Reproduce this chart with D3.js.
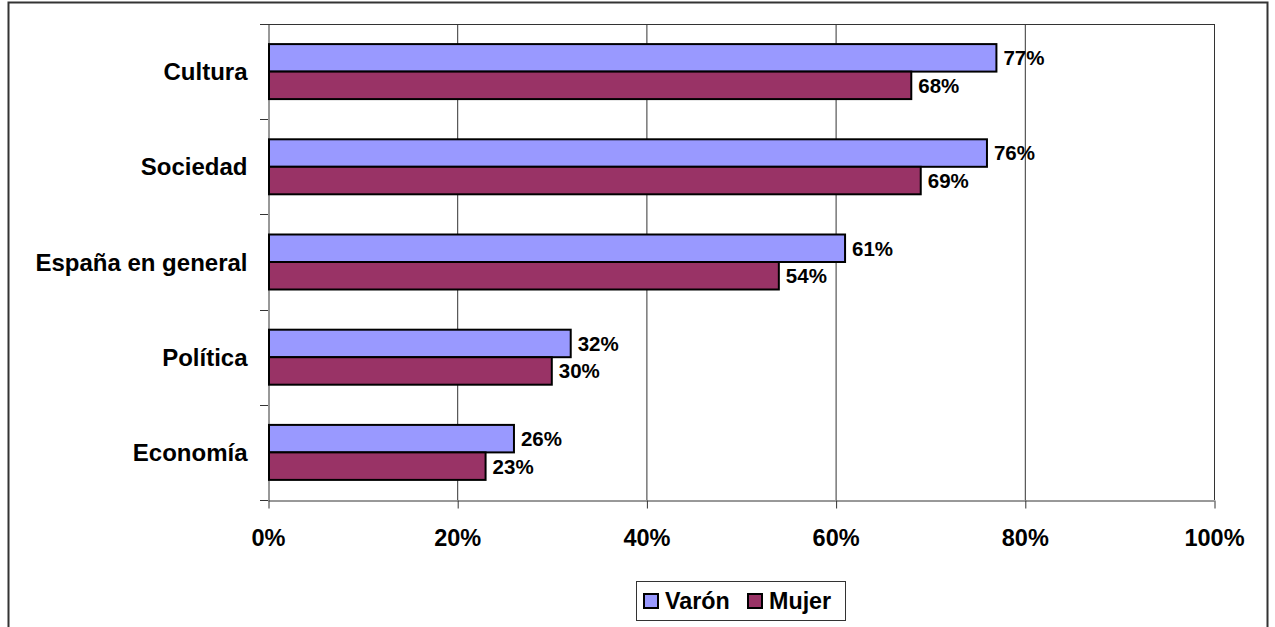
<!DOCTYPE html>
<html>
<head>
<meta charset="utf-8">
<script src="https://cdn.jsdelivr.net/npm/d3@7/dist/d3.min.js"></script>
<style>
  html, body { margin: 0; padding: 0; background: #fff; }
  svg { display: block; }
  text { font-family: Arial, "Liberation Sans", sans-serif; font-weight: bold; fill: #000; }
</style>
</head>
<body>
<svg id="chart" width="1275" height="627"></svg>
<script>
// Temas y porcentajes por sexo
const categories = ["Cultura", "Sociedad", "España en general", "Política", "Economía"];
const varon = [77, 76, 61, 32, 26];
const mujer = [68, 69, 54, 30, 23];
const seriesNames = ["Varón", "Mujer"];
const seriesColors = ["#9999FF", "#993366"];
const xTicks = [0, 20, 40, 60, 80, 100];

const svg = d3.select("#chart");

// Marco exterior
svg.append("rect")
  .attr("x", 8.5).attr("y", 2.5)
  .attr("width", 1259).attr("height", 640)
  .attr("fill", "none").attr("stroke", "#333").attr("stroke-width", 2);

const plot = { left: 268, right: 1214, top: 24, bottom: 500 };

const x = d3.scaleLinear().domain([0, 100]).range([plot.left, plot.right]);
const y = d3.scaleBand().domain(categories).range([plot.top, plot.bottom]).paddingInner(0).paddingOuter(0);
const barH = 27.5;

// Líneas de cuadrícula verticales
svg.append("g").selectAll("line")
  .data(xTicks.slice(1))
  .join("line")
  .attr("x1", d => x(d) + 0.5).attr("x2", d => x(d) + 0.5)
  .attr("y1", plot.top).attr("y2", plot.bottom)
  .attr("stroke", "#333").attr("stroke-width", 1);

// Borde superior del área de trazado
svg.append("line")
  .attr("x1", plot.left).attr("x2", plot.right + 0.5)
  .attr("y1", plot.top + 0.5).attr("y2", plot.top + 0.5)
  .attr("stroke", "#333").attr("stroke-width", 1);

// Eje X
const xAxis = svg.append("g")
  .attr("transform", `translate(0,${plot.bottom + 0.5})`)
  .call(d3.axisBottom(x).tickValues(xTicks).tickFormat(d => d + "%").tickSize(8).tickPadding(20).tickSizeOuter(0));
xAxis.select(".domain").attr("stroke", "#333");
xAxis.selectAll(".tick line").attr("stroke", "#333").attr("transform", "translate(0.5,0)");
xAxis.selectAll(".tick text")
  .attr("font-size", 23.5).attr("y", 37).attr("dy", "0.36em")
  .attr("font-family", "Arial, 'Liberation Sans', sans-serif").attr("font-weight", "bold").attr("fill", "#000");

// Eje Y
const yAxis = svg.append("g")
  .attr("transform", `translate(${plot.left + 0.5},0)`)
  .call(d3.axisLeft(y).tickSize(0).tickPadding(21));
yAxis.select(".domain").attr("stroke", "#333");
yAxis.selectAll(".tick text")
  .attr("font-size", 24).attr("dy", "0.36em")
  .attr("font-family", "Arial, 'Liberation Sans', sans-serif").attr("font-weight", "bold").attr("fill", "#000");

// Marcas de separación entre categorías
const boundaries = categories.map(c => y(c)).concat([plot.bottom]);
svg.append("g").selectAll("line")
  .data(boundaries)
  .join("line")
  .attr("x1", plot.left - 8).attr("x2", plot.left)
  .attr("y1", d => Math.round(d) + 0.5).attr("y2", d => Math.round(d) + 0.5)
  .attr("stroke", "#333");

// Barras
const data = categories.map((c, i) => ({ cat: c, values: [varon[i], mujer[i]] }));
const groups = svg.append("g").selectAll("g")
  .data(data)
  .join("g")
  .attr("transform", d => `translate(0,${y(d.cat) + y.bandwidth() / 2 - barH})`);

groups.selectAll("rect")
  .data(d => d.values.map((v, j) => ({ v, j })))
  .join("rect")
  .attr("x", x(0) + 1)
  .attr("y", d => d.j * barH)
  .attr("width", d => x(d.v) - x(0) - 1)
  .attr("height", barH)
  .attr("fill", d => seriesColors[d.j])
  .attr("stroke", "#000")
  .attr("stroke-width", 2);

groups.selectAll("text")
  .data(d => d.values.map((v, j) => ({ v, j })))
  .join("text")
  .attr("x", d => x(d.v) + 7)
  .attr("y", d => d.j * barH + barH / 2)
  .attr("dy", "0.36em")
  .attr("font-size", 20.5)
  .text(d => d.v + "%");

// Leyenda
const legend = svg.append("g");
legend.append("rect")
  .attr("x", 636.5).attr("y", 581.5)
  .attr("width", 209).attr("height", 39)
  .attr("fill", "#fff").attr("stroke", "#333").attr("stroke-width", 1);
const legendX = [643, 747];
seriesNames.forEach((name, i) => {
  legend.append("rect")
    .attr("x", legendX[i] + 1).attr("y", 594)
    .attr("width", 14).attr("height", 14)
    .attr("fill", seriesColors[i]).attr("stroke", "#000").attr("stroke-width", 2);
  legend.append("text")
    .attr("x", legendX[i] + 22).attr("y", 601)
    .attr("dy", "0.36em")
    .attr("font-size", 23.3)
    .text(name);
});
</script>
</body>
</html>
